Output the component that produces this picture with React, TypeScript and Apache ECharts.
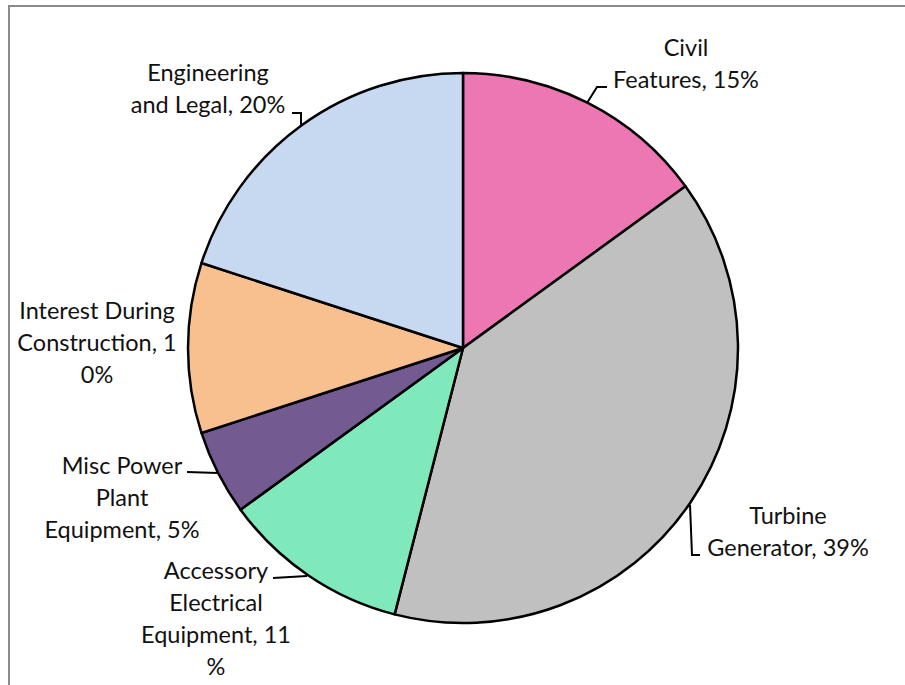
import React, { useEffect, useRef } from "react";
import * as echarts from "echarts";

const categories = [
  "Civil Features",
  "Turbine Generator",
  "Accessory Electrical Equipment",
  "Misc Power Plant Equipment",
  "Interest During Construction",
  "Engineering and Legal",
];
const values = [15, 39, 11, 5, 10, 20];
const labelTexts = [
  "Civil\nFeatures, 15%",
  "Turbine\nGenerator, 39%",
  "Accessory\nElectrical\nEquipment, 11\n%",
  "Misc Power\nPlant\nEquipment, 5%",
  "Interest During\nConstruction, 1\n0%",
  "Engineering\nand Legal, 20%",
];
const colors = ["#EC77B3", "#C0C0C0", "#80E9BC", "#735B92", "#F9C08F", "#C6D9F0"];

const labelPos: [number, number][] = [
  [686, 63],
  [788, 531],
  [216, 618],
  [122, 497],
  [97, 342],
  [208, 88],
];
const linePts: number[][][] = [
  [[587, 103], [597, 87], [607, 87]],
  [[690, 505], [692, 555], [700, 555]],
  [[307, 576], [273, 578]],
  [[218, 473], [187, 472]],
  [],
  [[301, 125], [301, 113], [292, 113]],
];

export default function App() {
  const ref = useRef<HTMLDivElement>(null);
  useEffect(() => {
    if (!ref.current) return;
    const chart = echarts.init(ref.current, null, { renderer: "svg" });
    chart.setOption({
      animation: false,
      backgroundColor: "#ffffff",
      graphic: [
        {
          type: "rect",
          shape: { x: 9, y: 6, width: 1200, height: 1200 },
          style: { fill: "none", stroke: "#8a8a8a", lineWidth: 2 },
          z: 100,
        },
      ],
      series: [
        {
          type: "pie",
          center: [463, 348],
          radius: [0, 275],
          startAngle: 90,
          clockwise: true,
          avoidLabelOverlap: false,
          itemStyle: { borderColor: "#000000", borderWidth: 2.5 },
          label: {
            show: true,
            position: "outside",
            fontFamily: "Lato",
            fontSize: 23.5,
            lineHeight: 32,
            color: "#111111",
            align: "center",
            formatter: (p: any) => labelTexts[p.dataIndex],
          },
          labelLine: {
            show: true,
            lineStyle: { color: "#000000", width: 2 },
          },
          labelLayout: (p: any) => {
            const i = p.dataIndex;
            const pts = linePts[i];
            const res: any = {
              x: labelPos[i][0],
              y: labelPos[i][1],
              align: "center",
              verticalAlign: "middle",
            };
            if (pts.length) res.labelLinePoints = pts;
            else res.labelLinePoints = [[0, 0], [0, 0], [0, 0]];
            return res;
          },
          data: categories.map((c, i) => ({
            name: c,
            value: values[i],
            itemStyle: { color: colors[i] },
            labelLine: { show: linePts[i].length > 0 },
          })),
        },
      ],
    });
    return () => chart.dispose();
  }, []);
  return (
    <div
      ref={ref}
      style={{ position: "fixed", left: 0, top: 0, width: 905, height: 685 }}
    />
  );
}
